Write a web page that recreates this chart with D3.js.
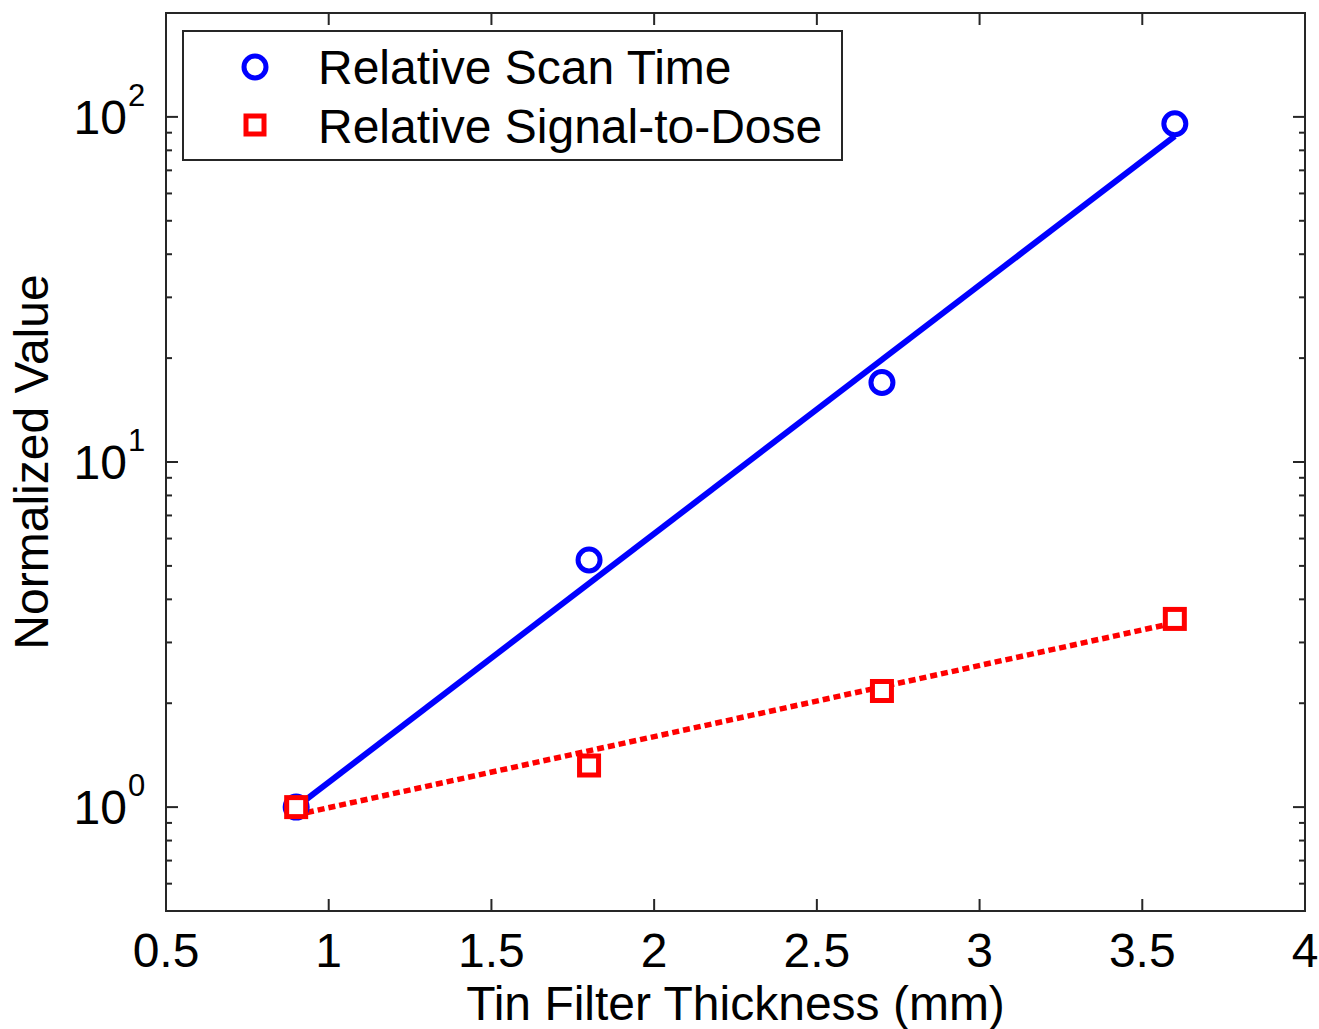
<!DOCTYPE html>
<html>
<head>
<meta charset="utf-8">
<script src="https://cdn.jsdelivr.net/npm/d3@7"></script>
<style>
  body { margin: 0; background: #fff; }
  svg text { font-family: Arial, "Liberation Sans", sans-serif; fill: #000; }
</style>
</head>
<body>
<script>
// thickness in mm
var thickness = [0.9, 1.8, 2.7, 3.6];
var scanTime = [1.0, 5.2, 17.0, 95.5];
var signalDose = [1.0, 1.32, 2.17, 3.51];

// fitted curves (end points)
var fitX = [0.9, 3.6];
var scanFit = [1.0, 88];
var doseFit = [0.95, 3.42];

var xTicks = [0.5, 1, 1.5, 2, 2.5, 3, 3.5, 4];
var yMajor = [1, 10, 100];
var yExp = ["0", "1", "2"];
var legendLabels = ["Relative Scan Time", "Relative Signal-to-Dose"];

var W = 1319, H = 1029;
var m = {left: 166, top: 13, right: 1305, bottom: 911};

var svg = d3.select("body").append("svg")
  .attr("width", W)
  .attr("height", H);

var x = d3.scaleLinear().domain([0.5, 4]).range([m.left, m.right]);
var y = d3.scaleLog().domain([0.5, 200]).range([m.bottom, m.top]);

// minor ticks for log axis
var yMinor = [];
[0.1, 1, 10, 100].forEach(function(d) {
  for (var k = 2; k <= 9; k++) {
    var v = d * k;
    if (v >= 0.5 && v <= 200) yMinor.push(v);
  }
});

var axisColor = "#262626";

// frame
svg.append("rect")
  .attr("x", m.left).attr("y", m.top)
  .attr("width", m.right - m.left).attr("height", m.bottom - m.top)
  .attr("fill", "none")
  .attr("stroke", axisColor)
  .attr("stroke-width", 2);

var ticks = svg.append("g").attr("stroke", axisColor).attr("stroke-width", 2);

// x ticks, bottom and top, pointing inward
xTicks.forEach(function(d) {
  ticks.append("line").attr("x1", x(d)).attr("x2", x(d))
    .attr("y1", m.bottom).attr("y2", m.bottom - 12);
  ticks.append("line").attr("x1", x(d)).attr("x2", x(d))
    .attr("y1", m.top).attr("y2", m.top + 12);
});

yMajor.forEach(function(d) {
  ticks.append("line").attr("x1", m.left).attr("x2", m.left + 12)
    .attr("y1", y(d)).attr("y2", y(d));
  ticks.append("line").attr("x1", m.right).attr("x2", m.right - 12)
    .attr("y1", y(d)).attr("y2", y(d));
});
yMinor.forEach(function(d) {
  ticks.append("line").attr("x1", m.left).attr("x2", m.left + 6)
    .attr("y1", y(d)).attr("y2", y(d));
  ticks.append("line").attr("x1", m.right).attr("x2", m.right - 6)
    .attr("y1", y(d)).attr("y2", y(d));
});

// x tick labels
svg.append("g").selectAll("text")
  .data(xTicks)
  .enter()
  .append("text")
  .attr("x", function(d) { return x(d); })
  .attr("y", 967)
  .attr("text-anchor", "middle")
  .style("font-size", "48px")
  .text(function(d) { return d; });

// y tick labels 10^n
var yl = svg.append("g").selectAll("g")
  .data(yMajor)
  .enter()
  .append("g");
yl.append("text")
  .attr("x", 127)
  .attr("y", function(d) { return y(d) + 17; })
  .attr("text-anchor", "end")
  .style("font-size", "48px")
  .text("10");
yl.append("text")
  .attr("x", 128)
  .attr("y", function(d) { return y(d) - 11; })
  .style("font-size", "31px")
  .text(function(d, i) { return yExp[i]; });

// axis titles
svg.append("text")
  .attr("x", x(2.25))
  .attr("y", 1020)
  .attr("text-anchor", "middle")
  .style("font-size", "48px")
  .text("Tin Filter Thickness (mm)");

svg.append("text")
  .attr("transform", "translate(48," + 462 + ") rotate(-90)")
  .attr("text-anchor", "middle")
  .style("font-size", "48px")
  .text("Normalized Value");

// fit lines
var line = d3.line()
  .x(function(d) { return x(d[0]); })
  .y(function(d) { return y(d[1]); });

svg.append("path")
  .datum(d3.zip(fitX, scanFit))
  .attr("d", line)
  .attr("fill", "none")
  .attr("stroke", "#0000ff")
  .attr("stroke-width", 6);

svg.append("path")
  .datum(d3.zip(fitX, doseFit))
  .attr("d", line)
  .attr("fill", "none")
  .attr("stroke", "#ff0000")
  .attr("stroke-width", 5.5)
  .attr("stroke-dasharray", "7,4");

// markers
svg.append("g").selectAll("circle")
  .data(d3.zip(thickness, scanTime))
  .enter()
  .append("circle")
  .attr("cx", function(d) { return x(d[0]); })
  .attr("cy", function(d) { return y(d[1]); })
  .attr("r", 11)
  .attr("fill", "#fff")
  .attr("stroke", "#0000ff")
  .attr("stroke-width", 5);

svg.append("g").selectAll("rect")
  .data(d3.zip(thickness, signalDose))
  .enter()
  .append("rect")
  .attr("x", function(d) { return x(d[0]) - 9.5; })
  .attr("y", function(d) { return y(d[1]) - 9.5; })
  .attr("width", 19)
  .attr("height", 19)
  .attr("fill", "#fff")
  .attr("stroke", "#ff0000")
  .attr("stroke-width", 5);

// legend
var lg = svg.append("g");
lg.append("rect")
  .attr("x", 183).attr("y", 31)
  .attr("width", 659).attr("height", 129)
  .attr("fill", "#fff")
  .attr("stroke", axisColor)
  .attr("stroke-width", 2);

lg.append("circle")
  .attr("cx", 255).attr("cy", 67).attr("r", 11)
  .attr("fill", "none").attr("stroke", "#0000ff").attr("stroke-width", 5);
lg.append("rect")
  .attr("x", 246).attr("y", 116).attr("width", 18).attr("height", 18)
  .attr("fill", "none").attr("stroke", "#ff0000").attr("stroke-width", 5);

lg.selectAll("text")
  .data(legendLabels)
  .enter()
  .append("text")
  .attr("x", 318)
  .attr("y", function(d, i) { return 84 + i * 59; })
  .style("font-size", "48px")
  .text(function(d) { return d; });
</script>
</body>
</html>
